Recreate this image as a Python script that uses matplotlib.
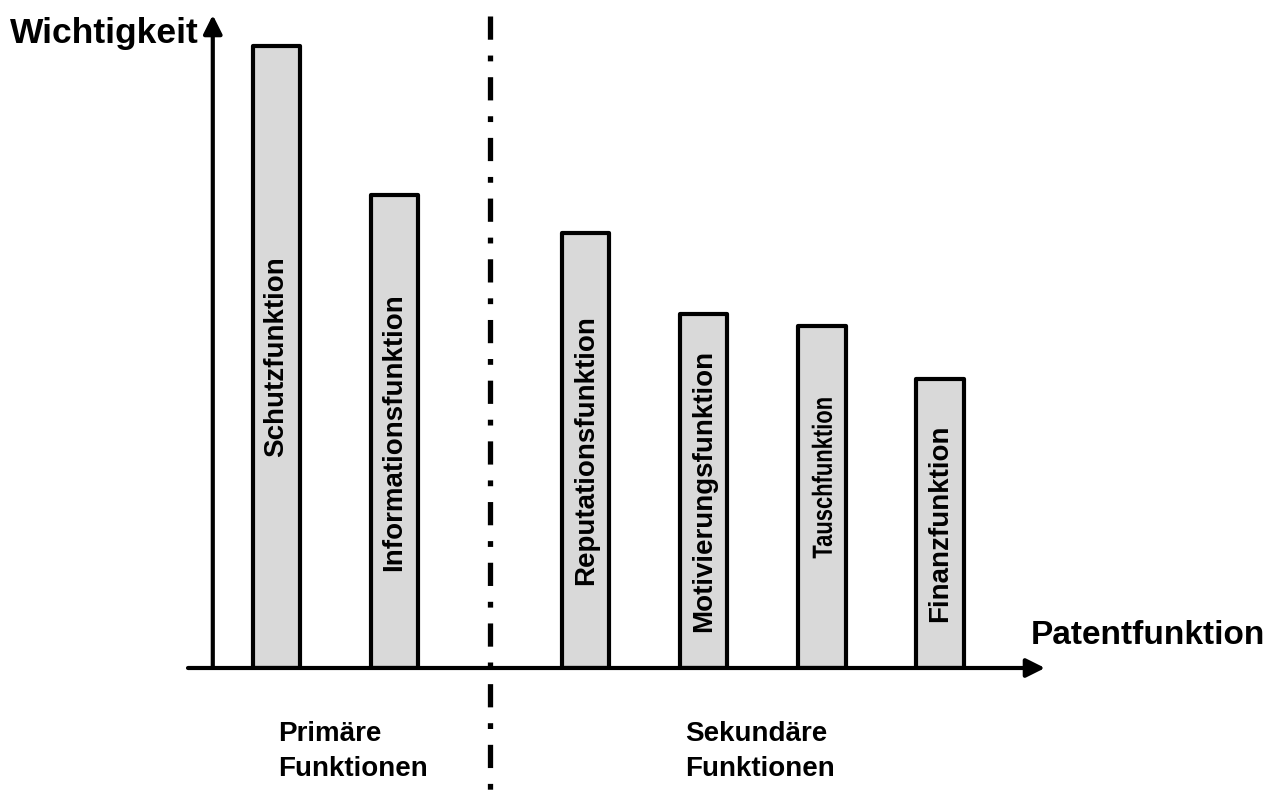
import matplotlib.pyplot as plt
from matplotlib.font_manager import FontProperties
from matplotlib.patches import PathPatch
from matplotlib.textpath import TextPath
from matplotlib.transforms import Affine2D

plt.rcParams['font.family'] = ['Liberation Sans', 'DejaVu Sans']

funktionen = ['Schutzfunktion', 'Informationsfunktion', 'Reputationsfunktion',
              'Motivierungsfunktion', 'Tauschfunktion', 'Finanzfunktion']
wichtigkeit = [100, 76, 70, 57, 55, 46.5]
positionen = [0, 1, 2.62, 3.62, 4.62, 5.62]

fig = plt.figure(figsize=(12.74, 7.92), dpi=100)
ax = fig.add_axes([188 / 1274, 124 / 792, 857 / 1274, 653 / 792])
ax.set_xlim(-0.75, 6.51)
ax.set_ylim(0, 105)
ax.axis('off')

bars = ax.bar(positionen, wichtigkeit, width=0.40, color='#d9d9d9',
              edgecolor='black', linewidth=3, zorder=2)
for b in bars:
    b.set_joinstyle('round')

# Beschriftung in den Balken; Tauschfunktion ist schmal gestaucht und etwas höher
bold = FontProperties(family='Liberation Sans', weight='bold')
for x, h, name in zip(positionen, wichtigkeit, funktionen):
    if name != 'Tauschfunktion':
        ax.text(x, h / 2, name, rotation=90, ha='center', va='center',
                fontsize=20, fontweight='bold', zorder=3)
        continue
    tp = TextPath((0, 0), name, size=20, prop=bold)
    ext = tp.get_extents()
    px = fig.dpi / 72
    cx, cy = ax.transData.transform((x, h / 2 + 3))
    tr = (Affine2D()
          .translate(-(ext.x0 + ext.x1) / 2, -(ext.y0 + ext.y1) / 2)
          .scale(0.79 * px, px)
          .rotate_deg(90)
          .translate(cx, cy))
    ax.add_patch(PathPatch(tp, transform=tr, facecolor='black', lw=0, zorder=3))

# Achsen mit Pfeilen
arrow = dict(arrowstyle='-|>', lw=3, color='black', mutation_scale=28,
             shrinkA=0, shrinkB=0)
ax.annotate('', xy=(-0.54, 105), xytext=(-0.54, 0), arrowprops=arrow,
            annotation_clip=False)
ax.annotate('', xy=(6.51, 0), xytext=(-0.75, 0), arrowprops=arrow,
            annotation_clip=False)

# Trennlinie zwischen primären und sekundären Funktionen (von oben nach unten)
trenn, = ax.plot([1.81, 1.81], [104.8, -20], color='black', lw=3.8,
                 clip_on=False, zorder=1)
trenn.set_dashes((4.4, 3.0, 1.1, 3.0))
trenn.set_dash_capstyle('butt')

ax.text(-2.26, 102, 'Wichtigkeit', fontsize=25.5, fontweight='bold',
        ha='left', va='center', clip_on=False)
ax.text(6.39, 5.3, 'Patentfunktion', fontsize=24, fontweight='bold',
        ha='left', va='center', clip_on=False)
ax.text(0.01, -13.5, 'Primäre\nFunktionen', fontsize=20, fontweight='bold',
        ha='left', va='center', linespacing=1.45, clip_on=False)
ax.text(3.46, -13.5, 'Sekundäre\nFunktionen', fontsize=20, fontweight='bold',
        ha='left', va='center', linespacing=1.45, clip_on=False)

fig.savefig('out.png', dpi=100)
